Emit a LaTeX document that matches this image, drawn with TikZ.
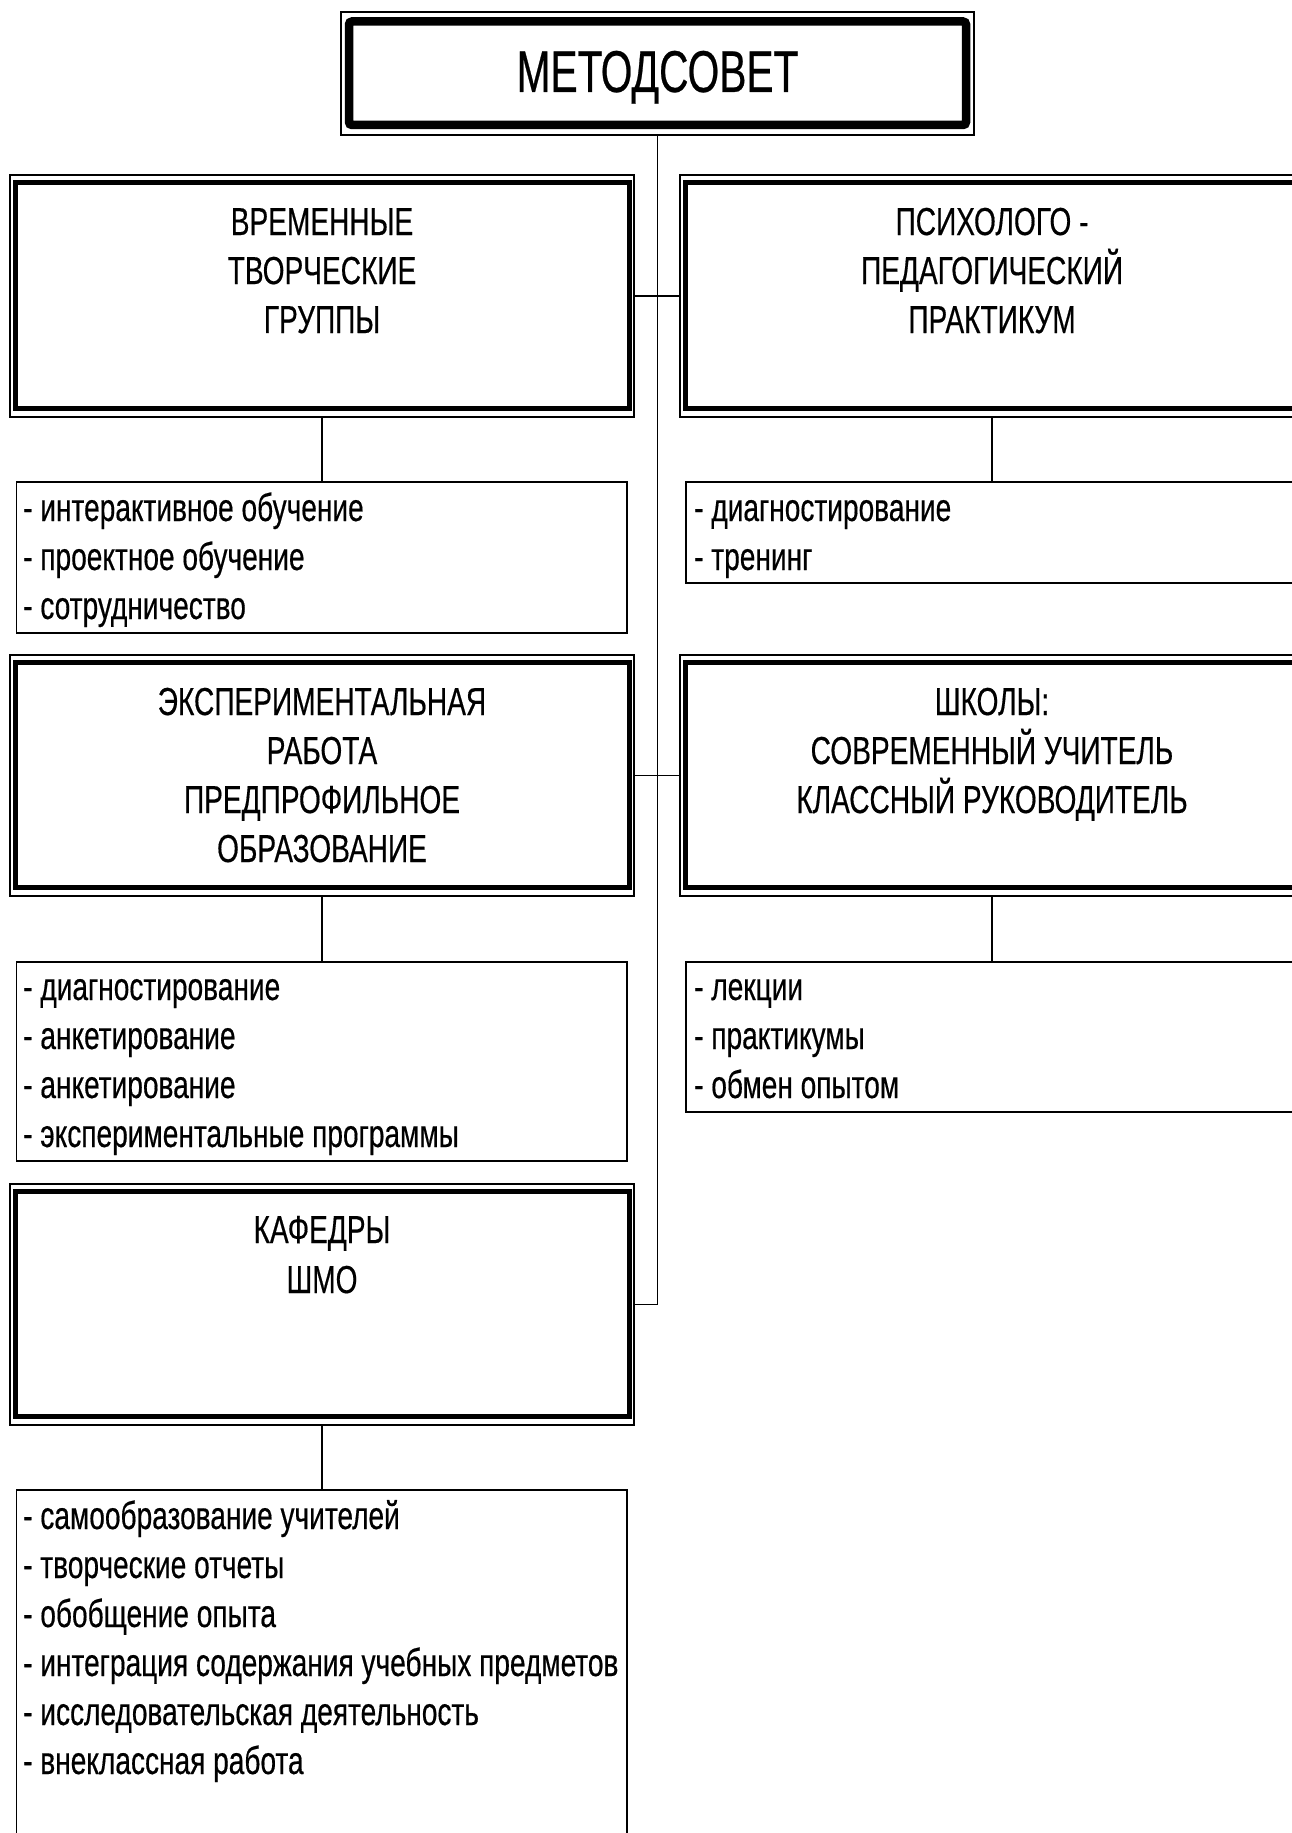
\documentclass[tikz,border=0pt]{standalone}
\usepackage{fontspec}
\setmainfont{Liberation Sans}[FakeStretch=0.72,FakeBold=0.4]
\newfontfamily\titlefont{Liberation Sans}[FakeStretch=0.69,FakeBold=0.4]
\begin{document}
\begin{tikzpicture}[x=1pt,y=-1pt,
  outerbox/.style={draw,line width=1.5pt,inner sep=0pt,outer sep=0pt,anchor=north west},
  listbox/.style={draw,line width=1.6pt,inner sep=0pt,outer sep=0pt,anchor=north west},
  band/.style={draw,line width=5pt},
  topband/.style={draw,line width=8.5pt,rounded corners=3pt},
  conn/.style={draw,line width=1.8pt},
  ttl/.style={anchor=base,inner sep=0pt,font=\fontsize{39}{49}\selectfont},
  itm/.style={anchor=base west,inner sep=0pt,font=\fontsize{39}{49}\selectfont}]
\useasboundingbox (0,0) rectangle (1292,1833);
\fill[white] (0,0) rectangle (1292,1833);
\clip (0,0) rectangle (1292,1833);

% top box
\node[outerbox,line width=2pt,minimum width=633pt,minimum height=123pt] (m) at (341,12) {};
\draw[topband] ([shift={(8,9.5)}]m.north west) rectangle ([shift={(-8,-10)}]m.south east);
\node[anchor=base,inner sep=0pt,font=\titlefont\fontsize{59}{60}\selectfont] (mt) at (657.5,92) {МЕТОДСОВЕТ};

% main boxes
\node[outerbox,minimum width=624pt,minimum height=242pt] (b1) at (10,175) {};
\node[outerbox,minimum width=624pt,minimum height=242pt] (b2) at (680,175) {};
\node[outerbox,minimum width=624pt,minimum height=241pt] (b3) at (10,655) {};
\node[outerbox,minimum width=624pt,minimum height=241pt] (b4) at (680,655) {};
\node[outerbox,minimum width=624pt,minimum height=241pt] (b5) at (10,1184) {};
\foreach \b in {b1,b2,b3,b4,b5}{
  \draw[band] ([shift={(5.5,7.5)}]\b.north west) rectangle ([shift={(-5,-8.5)}]\b.south east);
}

% list boxes
\node[listbox,minimum width=610.5pt,minimum height=151pt] (l1) at (16.5,482) {};
\node[listbox,minimum width=620pt,minimum height=101pt] (l2) at (686,482) {};
\node[listbox,minimum width=610.5pt,minimum height=199pt] (l3) at (16.5,962) {};
\node[listbox,minimum width=620pt,minimum height=150pt] (l4) at (686,962) {};
\node[listbox,minimum width=610.5pt,minimum height=420pt] (l5) at (16.5,1490) {};

% connectors
\draw[conn] (m.south) -- (m.south |- b5.east) -- (b5.east);
\draw[conn] (b1.east) -- (b2.west);
\draw[conn] (b3.east) -- (b4.west);
\draw[conn] (b1.south) -- (b1.south |- l1.north);
\draw[conn] (b2.south) -- (b2.south |- l2.north);
\draw[conn] (b3.south) -- (b3.south |- l3.north);
\draw[conn] (b4.south) -- (b4.south |- l4.north);
\draw[conn] (b5.south) -- (b5.south |- l5.north);

% titles
\node[ttl] (t1a) at (322,235) {ВРЕМЕННЫЕ};
\node[ttl] (t1b) at (322,284) {ТВОРЧЕСКИЕ};
\node[ttl] (t1c) at (322,333) {ГРУППЫ};
\node[ttl] (t2a) at (992,235) {ПСИХОЛОГО -};
\node[ttl] (t2b) at (992,284) {ПЕДАГОГИЧЕСКИЙ};
\node[ttl] (t2c) at (992,333) {ПРАКТИКУМ};
\node[ttl] (t3a) at (322,715) {ЭКСПЕРИМЕНТАЛЬНАЯ};
\node[ttl] (t3b) at (322,764) {РАБОТА};
\node[ttl] (t3c) at (322,813) {ПРЕДПРОФИЛЬНОЕ};
\node[ttl] (t3d) at (322,862) {ОБРАЗОВАНИЕ};
\node[ttl] (t4a) at (992,715) {ШКОЛЫ:};
\node[ttl] (t4b) at (992,764) {СОВРЕМЕННЫЙ УЧИТЕЛЬ};
\node[ttl] (t4c) at (992,813) {КЛАССНЫЙ РУКОВОДИТЕЛЬ};
\node[ttl] (t5a) at (322,1243) {КАФЕДРЫ};
\node[ttl] (t5b) at (322,1293) {ШМО};

% list items
\foreach \t [count=\i] in {- интерактивное обучение,- проектное обучение,- сотрудничество}
  \node[itm] (i1\i) at (23,{521+49*(\i-1)}) {\t};
\foreach \t [count=\i] in {- диагностирование,- тренинг}
  \node[itm] (i2\i) at (694,{521+49*(\i-1)}) {\t};
\foreach \t [count=\i] in {- диагностирование,- анкетирование,- анкетирование,- экспериментальные программы}
  \node[itm] (i3\i) at (23,{1000+49*(\i-1)}) {\t};
\foreach \t [count=\i] in {- лекции,- практикумы,- обмен опытом}
  \node[itm] (i4\i) at (694,{1000+49*(\i-1)}) {\t};
\foreach \t [count=\i] in {- самообразование учителей,- творческие отчеты,- обобщение опыта,- интеграция содержания учебных предметов,- исследовательская деятельность,- внеклассная работа}
  \node[itm] (i5\i) at (23,{1529+49*(\i-1)}) {\t};
\end{tikzpicture}
\end{document}
